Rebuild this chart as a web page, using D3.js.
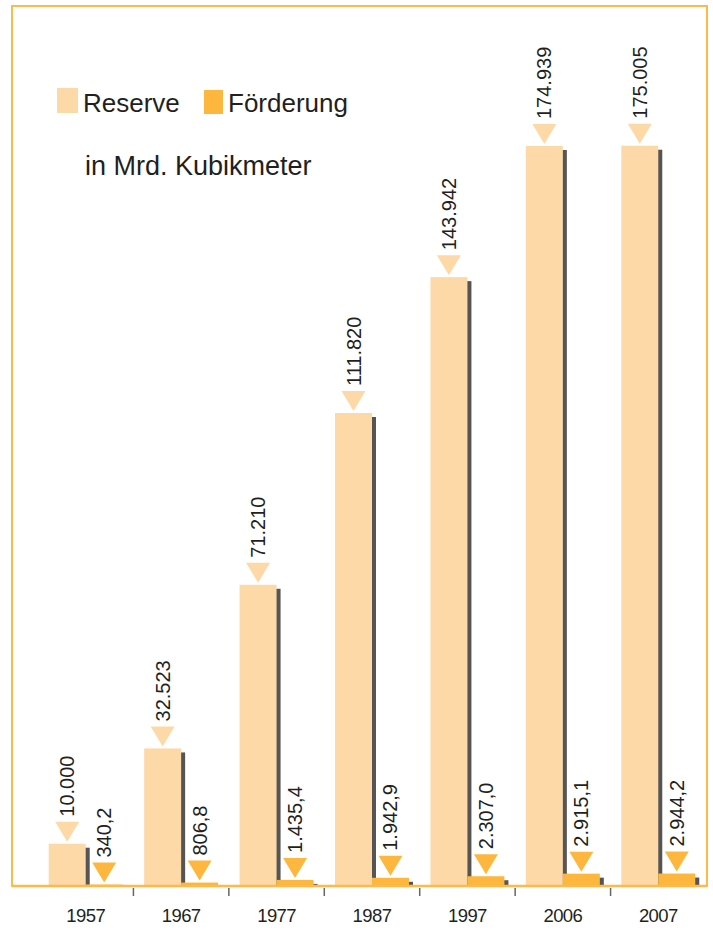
<!DOCTYPE html>
<html>
<head>
<meta charset="utf-8">
<script src="https://cdn.jsdelivr.net/npm/d3@7"></script>
<style>
  body { margin: 0; background: #fff; }
  svg text { font-family: "Liberation Sans", Arial, Helvetica, sans-serif; fill: #231f20; }
</style>
</head>
<body>
<svg width="713" height="931"></svg>
<script>
// data
const years = ["1957", "1967", "1977", "1987", "1997", "2006", "2007"];
const reserve = [10000, 32523, 71210, 111820, 143942, 174939, 175005];
const foerderung = [340.2, 806.8, 1435.4, 1942.9, 2307.0, 2915.1, 2944.2];
const seriesNames = ["Reserve", "Förderung"];

const colors = { Reserve: "#fed9a8", "Förderung": "#fdb73e" };
const orange = "#fdb94a";

const de = d3.formatLocale({ decimal: ",", thousands: ".", grouping: [3], currency: ["", " €"] });
const fmt = { Reserve: de.format(",d"), "Förderung": de.format(",.1f") };

const svg = d3.select("svg");
const base = 886;

const x = d3.scaleBand().domain(years).range([38, 706]).padding(0);
const xs = d3.scaleBand().domain(seriesNames).range([0, x.bandwidth()])
  .paddingInner(0).paddingOuter(0.29);
// one scale for both series, Förderung shares the Reserve axis
const y = d3.scaleLinear().domain([0, 200000]).range([base, base - 846]);

const rows = years.map((yr, i) => ({ year: yr, Reserve: reserve[i], "Förderung": foerderung[i] }));

// frame
svg.append("rect")
  .attr("x", 12).attr("y", 6).attr("width", 695).attr("height", base - 6)
  .attr("fill", "none").attr("stroke", orange).attr("stroke-width", 2);

const bw = xs.bandwidth();
const groups = svg.selectAll("g.grp").data(rows).enter().append("g")
  .attr("class", "grp")
  .attr("transform", d => "translate(" + x(d.year) + ",0)");

seriesNames.forEach(s => {
  // shadow first, then the bar
  groups.append("rect")
    .attr("x", xs(s) + 4).attr("y", d => y(d[s]) + 4)
    .attr("width", bw).attr("height", d => Math.max(0, base - y(d[s]) - 4))
    .attr("fill", "#555");
  groups.append("rect")
    .attr("x", xs(s)).attr("y", d => y(d[s]))
    .attr("width", bw).attr("height", d => base - 1 - y(d[s]))
    .attr("fill", colors[s]);
});

seriesNames.forEach(s => {
  const cx = xs(s) + bw / 2;
  groups.append("path")
    .attr("d", d => {
      const t = y(d[s]) - 2;
      return "M" + (cx - 12) + "," + (t - 20) + "L" + (cx + 12) + "," + (t - 20) + "L" + cx + "," + t + "Z";
    })
    .attr("fill", colors[s]);
  groups.append("text")
    .attr("transform", d => "translate(" + (cx + 7) + "," + (y(d[s]) - 27) + ")rotate(-90)")
    .attr("font-size", 20)
    .text(d => fmt[s](d[s]));
});

// axis line + ticks
svg.append("line")
  .attr("x1", 12).attr("x2", 707).attr("y1", base).attr("y2", base)
  .attr("stroke", orange).attr("stroke-width", 2.5);

svg.selectAll("line.tick").data(years.slice(1)).enter().append("line")
  .attr("class", "tick")
  .attr("x1", d => x(d)).attr("x2", d => x(d))
  .attr("y1", base + 2).attr("y2", base + 10)
  .attr("stroke", "#666").attr("stroke-width", 1.5);

svg.selectAll("text.year").data(years).enter().append("text")
  .attr("class", "year")
  .attr("x", d => x(d) + x.bandwidth() / 2)
  .attr("y", 922)
  .attr("text-anchor", "middle")
  .attr("font-family", "Liberation Sans, Arial, sans-serif")
  .attr("font-size", 18.5)
  .attr("letter-spacing", -0.6)
  .text(d => d);

// legend
const legend = [
  { name: "Reserve", x: 57, y: 88, w: 21, h: 25 },
  { name: "Förderung", x: 204, y: 90, w: 19, h: 24 }
];
legend.forEach(l => {
  svg.append("rect").attr("x", l.x).attr("y", l.y).attr("width", l.w).attr("height", l.h)
    .attr("fill", colors[l.name]);
  svg.append("text").attr("x", l.x + l.w + 5).attr("y", 112)
    .attr("font-size", 26).attr("fill", "#333").text(l.name);
});
svg.append("text").attr("x", 85).attr("y", 175)
  .attr("font-size", 27).attr("fill", "#333").text("in Mrd. Kubikmeter");
</script>
</body>
</html>
